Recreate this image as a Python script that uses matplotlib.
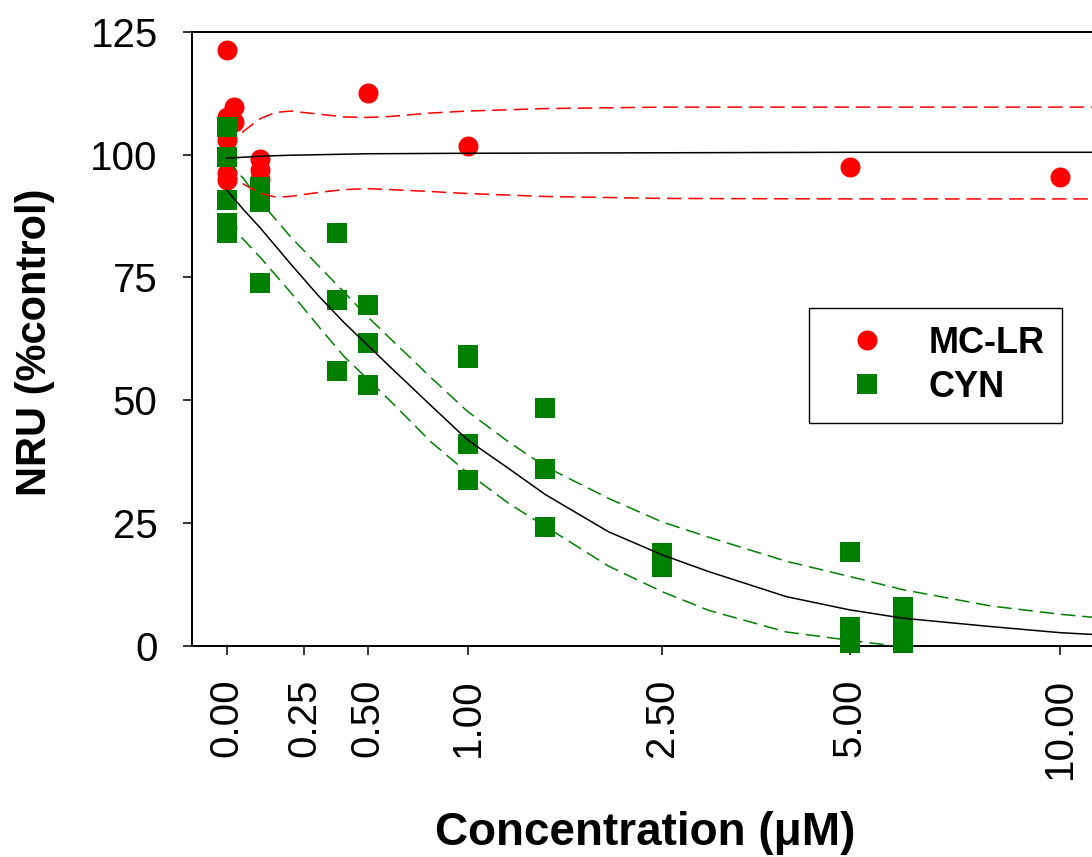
import numpy as np
import matplotlib
matplotlib.use("Agg")
import matplotlib.pyplot as plt

# ---------------- data ----------------
mc_x = [0, 0, 0, 0, 0, 0, 0, 0.02, 0.02, 0.1, 0.1, 0.1, 0.5, 1.0, 5.0, 10.0]
mc_y = [121.3, 107.7, 103.0, 99.6, 96.2, 94.8, 85.3, 109.8, 106.7, 99.2, 96.8, 95.0, 112.5, 101.8, 97.5, 95.4]

cyn_x = [0, 0, 0, 0, 0, 0.1, 0.1, 0.1, 0.375, 0.375, 0.375, 0.5, 0.5, 0.5,
         1.0, 1.0, 1.0, 1.0, 1.5, 1.5, 1.5, 2.5, 2.5, 2.5, 5.0, 5.0, 5.0, 6.0, 6.0, 6.0]
cyn_y = [105.7, 99.6, 90.8, 86.1, 84.0, 93.5, 90.4, 73.8, 84.0, 70.4, 55.9, 69.3, 61.6, 53.0,
         59.2, 58.6, 41.1, 33.7, 48.4, 36.0, 24.1, 18.8, 17.4, 16.1, 19.0, 3.9, 0.5, 7.9, 4.2, 0.5]

# fitted curves
cyn_fit_x = [0, 0.05, 0.1, 0.2, 0.3, 0.4, 0.5, 0.6, 0.8, 1.0, 1.25, 1.5, 2.0, 2.5, 3.0, 4.0, 5.0, 6.0, 8.0, 10.0, 11.05]
cyn_fit = [92.8, 88.8, 85.2, 77.9, 71.4, 65.9, 61.2, 56.8, 48.9, 41.9, 36.1, 30.8, 23.2, 18.5, 15.1, 10.0, 7.3, 5.6, 3.9, 2.65, 2.3]
cyn_up = [99.0, 95.1, 90.6, 83.4, 77.5, 72.1, 67.0, 62.6, 54.6, 47.7, 41.5, 36.5, 30.0, 25.2, 22.1, 17.2, 14.1, 11.4, 8.1, 6.4, 5.8]
cyn_lo_x = [0, 0.05, 0.1, 0.2, 0.3, 0.4, 0.5, 0.6, 0.8, 1.0, 1.25, 1.5, 2.0, 2.5, 3.0, 4.0, 5.0, 5.8]
cyn_lo = [86.3, 82.7, 79.2, 72.1, 65.2, 59.0, 54.3, 49.9, 41.5, 35.2, 29.0, 24.3, 16.2, 11.0, 7.2, 2.8, 1.1, 0.0]

mc_fit_x = [0, 0.05, 0.1, 0.2, 0.5, 1.0, 2.5, 5.0, 11.05]
mc_fit = [99.3, 99.5, 99.7, 99.9, 100.2, 100.3, 100.4, 100.5, 100.5]
mc_band_x = [0, 0.02, 0.05, 0.1, 0.15, 0.2, 0.3, 0.4, 0.5, 0.6, 0.8, 1.0, 1.5, 2.5, 5.0, 11.05]
mc_up = [101.5, 102.8, 104.8, 107.3, 108.6, 108.9, 108.3, 107.7, 107.6, 107.8, 108.5, 108.9, 109.4, 109.7, 109.7, 109.7]
mc_lo = [97.0, 95.8, 94.0, 92.2, 91.4, 91.5, 92.3, 92.9, 93.1, 92.9, 92.5, 92.1, 91.5, 91.1, 91.0, 91.0]

x_ticks = [0, 0.25, 0.5, 1.0, 2.5, 5.0, 10.0]
x_ticklabels = ["0.00", "0.25", "0.50", "1.00", "2.50", "5.00", "10.00"]
y_ticks = [0, 25, 50, 75, 100, 125]
labels = ["MC-LR", "CYN"]

# ---------------- figure ----------------
plt.rcParams['font.family'] = ['Liberation Sans', 'DejaVu Sans']

W, H = 1092, 857
fig = plt.figure(figsize=(W / 100, H / 100), dpi=100)
L, B, T = 191.7, 645.7, 32.0
ax = fig.add_axes([L / W, 1 - B / H, (W - L) / W, (B - T) / H])


def fwd(x):
    x = np.asarray(x, dtype=float)
    return np.log10(np.clip(1 + x, 1e-9, None))


def inv(y):
    return 10 ** np.asarray(y, dtype=float) - 1


ax.set_xscale('function', functions=(fwd, inv))
ax.set_xlim(-0.0957, 11.05)
ax.set_ylim(0, 125)

ms = 14.4
h_mc, = ax.plot(mc_x, mc_y, 'o', color='#ff0000', ms=ms, mew=0, clip_on=False, zorder=3)
h_cyn, = ax.plot(cyn_x, cyn_y, 's', color='#008000', ms=ms, mew=0, clip_on=False, zorder=3)

dash = (0, (9.5, 4.5))
ax.plot(mc_fit_x, mc_fit, color='black', lw=1.1, zorder=4)
ax.plot(mc_band_x, mc_up, color='#ff0000', lw=1.1, ls=dash, zorder=4)
ax.plot(mc_band_x, mc_lo, color='#ff0000', lw=1.1, ls=dash, zorder=4)
ax.plot(cyn_fit_x, cyn_fit, color='black', lw=1.1, zorder=4)
ax.plot(cyn_fit_x, cyn_up, color='#008000', lw=1.1, ls=dash, zorder=4)
ax.plot(cyn_lo_x, cyn_lo, color='#008000', lw=1.1, ls=dash, zorder=4)

ax.set_xticks(x_ticks)
ax.set_xticklabels(x_ticklabels, rotation=90)
ax.set_yticks(y_ticks)
ax.minorticks_off()

ax.spines['right'].set_visible(False)
for s in ['left', 'top', 'bottom']:
    ax.spines[s].set_linewidth(1.4)
ax.tick_params(axis='both', direction='out', length=6.5, width=1.1, labelsize=29, colors='black')
ax.tick_params(axis='y', pad=18)
ax.tick_params(axis='x', pad=17)
ax.tick_params(top=False, right=False)

fig.text(35 / W, 1 - 342 / H, "NRU (%control)", rotation=90, ha='center', va='center',
         fontsize=30, fontweight='bold')
fig.text(645 / W, 1 - 833 / H, "Concentration (\u03bcM)", ha='center', va='center',
         fontsize=33, fontweight='bold')

leg = ax.legend([h_mc, h_cyn], labels, loc='upper left',
                bbox_to_anchor=(809 / W, 1 - 308 / H), bbox_transform=fig.transFigure,
                prop={'weight': 'bold', 'size': 26}, frameon=True, fancybox=False,
                edgecolor='black', borderpad=0.5, handlelength=2.2, handletextpad=0.6,
                labelspacing=0.25, borderaxespad=0, numpoints=1)
leg.get_frame().set_linewidth(1.0)
leg.get_frame().set_alpha(None)
leg.get_frame().set_facecolor('white')
leg.set_zorder(5)

fig.savefig('out.png', dpi=100)
